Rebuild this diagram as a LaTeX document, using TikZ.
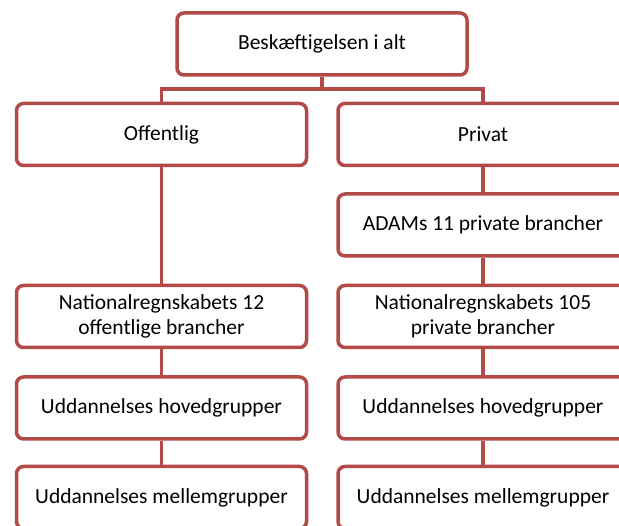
\documentclass[tikz,border=0pt]{standalone}
\usepackage{fontspec}
\setmainfont{Carlito}
\usepackage{xcolor}
\usetikzlibrary{positioning,calc}
\definecolor{boxred}{HTML}{B24A47}
\tikzset{
  orgbox/.style={draw=boxred, line width=3.5pt, rounded corners=7pt, fill=white,
                 minimum width=290pt, minimum height=62pt, align=center,
                 font=\fontsize{21.5}{25}\selectfont, inner sep=2pt},
  orgline/.style={draw=boxred, line width=3.5pt},
}
\begin{document}
\begin{tikzpicture}[x=1pt, y=-1pt]
    \useasboundingbox (0,0) rectangle (619,526);
    \clip (0,0) rectangle (619,526);
    % top level
    \node[orgbox] (Total) at (322,44) {Beskæftigelsen i alt};
    % left column
    \node[orgbox] (Off)     at (161.5,134.5) {Offentlig};
    \node[orgbox] (OffNat)  at (161.5,316.5) {Nationalregnskabets 12\\offentlige brancher};
    \node[orgbox] (OffHov)  at (161.5,408)   {Uddannelses hovedgrupper};
    \node[orgbox] (OffMel)  at (161.5,497.5) {Uddannelses mellemgrupper};
    % right column
    \node[orgbox] (Priv)    at (483,134.5) {Privat};
    \node[orgbox] (PrivAdm) at (483,225)   {ADAMs 11 private brancher};
    \node[orgbox] (PrivNat) at (483,316.5) {Nationalregnskabets 105\\private brancher};
    \node[orgbox] (PrivHov) at (483,408)   {Uddannelses hovedgrupper};
    \node[orgbox] (PrivMel) at (483,497.5) {Uddannelses mellemgrupper};
    % connectors
    \coordinate (split) at ($(Total.south)!0.5!(Total.south |- Off.north)$);
    \draw[orgline] (Total.south) -- (split) -| (Off.north);
    \draw[orgline] (split) -| (Priv.north);
    \draw[orgline] (Off.south) -- (OffNat.north);
    \draw[orgline] (OffNat.south) -- (OffHov.north);
    \draw[orgline] (OffHov.south) -- (OffMel.north);
    \draw[orgline] (Priv.south) -- (PrivAdm.north);
    \draw[orgline] (PrivAdm.south) -- (PrivNat.north);
    \draw[orgline] (PrivNat.south) -- (PrivHov.north);
    \draw[orgline] (PrivHov.south) -- (PrivMel.north);
\end{tikzpicture}
\end{document}
